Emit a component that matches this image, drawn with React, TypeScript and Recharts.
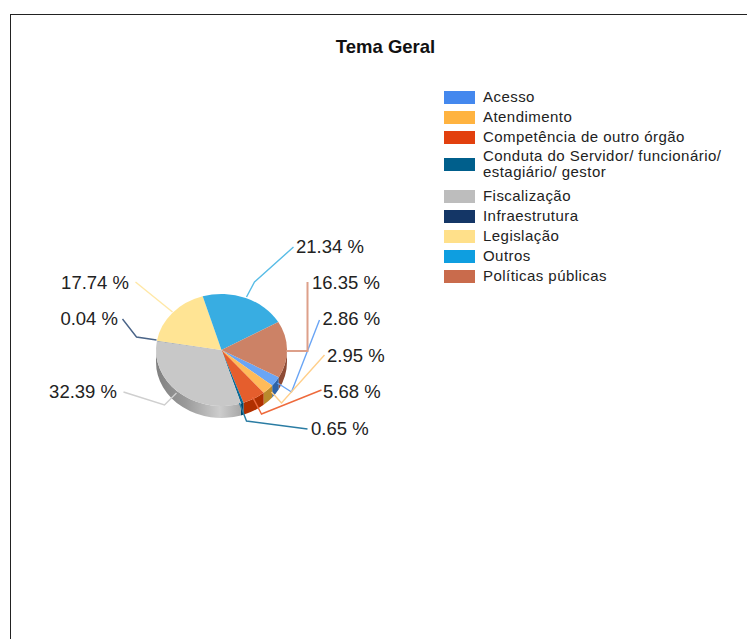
import { PieChart, Pie, Legend } from "recharts";

// Tema Geral: share of each theme, in percent, in legend order
const CATEGORIES = [
  "Acesso",
  "Atendimento",
  "Competência de outro órgão",
  "Conduta do Servidor/ funcionário/ estagiário/ gestor",
  "Fiscalização",
  "Infraestrutura",
  "Legislação",
  "Outros",
  "Políticas públicas",
];
const VALUES = [2.86, 2.95, 5.68, 0.65, 32.39, 0.04, 17.74, 21.34, 16.35];

const LEGEND_COLORS = ["#4488EE", "#FFB340", "#E2400E", "#005F8C", "#BDBDBD", "#143666", "#FFE08A", "#0E9EE0", "#C96B4C"];
const TOP_COLORS = ["#6AA5F5", "#FFBB5A", "#E55E2D", "#0A6A96", "#C8C8C8", "#143666", "#FFE494", "#38ADE2", "#CC8266"];
const SIDE_COLORS = ["#2E63A8", "#B98A2C", "#B03000", "#004A6E", "url(#sideGray)", "#0E2748", "#B89F5A", "#0A70A0", "#8E4B35"];
const LINE_COLORS = ["#6AA5F5", "#FFCF8A", "#EE6A3C", "#2A7CA3", "#CFCFCF", "#4A6488", "#FFE8A6", "#58BCE6", "#DDA08A"];

const CX = 221.5;
const CY = 350;
const RX = 65.5;
const RY = 56;
const DEPTH = 12;
const FONT = '"Liberation Sans", Arial, sans-serif';

// leader line geometry relative to the pie centre, [x, y] per bend, plus label anchor
const LEADERS: { pts: [number, number][]; side: "start" | "end"; x: number; y: number }[] = [
  { pts: [[56, 33], [70, 42], [98, -30]], side: "start", x: 101, y: -31.5 },
  { pts: [[50, 42], [60, 53], [103, 5]], side: "start", x: 105.5, y: 5.5 },
  { pts: [[31, 47], [40, 64], [100, 40]], side: "start", x: 101.5, y: 41.5 },
  { pts: [[18, 53], [25, 71], [86, 79]], side: "start", x: 89.5, y: 78.5 },
  { pts: [[-45, 43], [-57, 55], [-98, 42]], side: "end", x: -104.5, y: 41.5 },
  { pts: [[-65, -10], [-85, -13], [-99, -31]], side: "end", x: -103.5, y: -31.5 },
  { pts: [[-49, -38], [-86, -68]], side: "end", x: -92.5, y: -67.5 },
  { pts: [[25, -53], [33, -68], [72, -103]], side: "start", x: 74.5, y: -103.5 },
  { pts: [[65, 1], [86, 1], [86, -68]], side: "start", x: 90.5, y: -67.5 },
];

const rad = (d: number) => (d * Math.PI) / 180;
const px = (cx: number, t: number) => cx + RX * Math.cos(rad(t));
const py = (cy: number, t: number) => cy + RY * Math.sin(rad(t));

function sidePath(cx: number, cy: number, a: number, b: number) {
  const large = b - a > 180 ? 1 : 0;
  return (
    `M${px(cx, a)} ${py(cy, a)} A${RX} ${RY} 0 ${large} 1 ${px(cx, b)} ${py(cy, b)} ` +
    `L${px(cx, b)} ${py(cy, b) + DEPTH} A${RX} ${RY} 0 ${large} 0 ${px(cx, a)} ${py(cy, a) + DEPTH} Z`
  );
}

// recharts hands over the angles, the slice is squashed to an ellipse here
function EllipseSlice(props: any) {
  const { cx, cy, startAngle, endAngle, index } = props;
  const t0 = -startAngle;
  const t1 = -endAngle;
  const large = t1 - t0 > 180 ? 1 : 0;
  const top = `M${cx} ${cy} L${px(cx, t0)} ${py(cy, t0)} A${RX} ${RY} 0 ${large} 1 ${px(cx, t1)} ${py(cy, t1)} Z`;
  const sides: string[] = [];
  for (const k of [0, 360]) {
    const a = Math.max(t0, k);
    const b = Math.min(t1, k + 180);
    if (b > a) sides.push(sidePath(cx, cy, a, b));
  }
  return (
    <g>
      {sides.map((d, i) => (
        <path key={i} d={d} fill={SIDE_COLORS[index]} />
      ))}
      <path d={top} fill={TOP_COLORS[index]} />
    </g>
  );
}

function LeaderLabel(props: any) {
  const { index, value, cx, cy } = props;
  const l = LEADERS[index];
  const pts = l.pts.map(([x, y]) => `${cx + x},${cy + y}`).join(" ");
  const isThick = index === 8;
  return (
    <g>
      <polyline points={pts} fill="none" stroke={LINE_COLORS[index]} strokeWidth={isThick ? 2 : 1.4} />
      <text x={cx + l.x} y={cy + l.y} dy="0.35em" textAnchor={l.side} fontFamily={FONT} fontSize={18.5} fill="#222">
        {`${Number(value).toFixed(2)} %`}
      </text>
    </g>
  );
}

function LegendList({ payload }: any) {
  return (
    <div style={{ fontFamily: FONT, fontSize: 15, letterSpacing: 0.45, lineHeight: "16px", color: "#222" }}>
      {(payload ?? []).map((p: any, i: number) => (
        <div
          key={p.value}
          style={{
            display: "flex",
            alignItems: "center",
            minHeight: 20,
            marginTop: i === 3 ? 1 : 0,
            marginBottom: i === 3 ? 6 : 0,
          }}
        >
          <span style={{ width: 31, height: 13, background: LEGEND_COLORS[i], marginRight: 8, flexShrink: 0 }} />
          <span>{p.value}</span>
        </div>
      ))}
    </div>
  );
}

const tableData = CATEGORIES.map((name, i) => ({ name, value: VALUES[i], fill: LEGEND_COLORS[i] }));

export default function App() {
  return (
    <div style={{ position: "fixed", left: 0, top: 0, width: 747, height: 639, background: "#fff", overflow: "hidden" }}>
      <div style={{ position: "absolute", left: 10, top: 14, right: 0, bottom: 0, borderLeft: "1px solid #222", borderTop: "1px solid #222" }} />
      <PieChart width={747} height={639} margin={{ top: 0, right: 0, bottom: 0, left: 0 }}>
        <defs>
          <linearGradient id="sideGray" x1="0" y1="0" x2="1" y2="0">
            <stop offset="0" stopColor="#808080" />
            <stop offset="0.35" stopColor="#9A9A9A" />
            <stop offset="0.75" stopColor="#CDCDCD" />
            <stop offset="1" stopColor="#A8A8A8" />
          </linearGradient>
        </defs>
        <text x={385.5} y={47} dy="0.35em" textAnchor="middle" fontFamily={FONT} fontSize={18.5} fontWeight="bold" fill="#111">
          Tema Geral
        </text>
        <Pie
          data={tableData}
          dataKey="value"
          nameKey="name"
          cx={CX}
          cy={CY}
          outerRadius={RX}
          startAngle={-29}
          endAngle={-389}
          stroke="none"
          shape={EllipseSlice}
          label={LeaderLabel}
          labelLine={false}
          isAnimationActive={false}
        />
        <Legend
          layout="vertical"
          align="right"
          verticalAlign="top"
          itemSorter={null}
          content={LegendList}
          wrapperStyle={{ left: 444, top: 87, width: 285, right: "auto" }}
        />
      </PieChart>
    </div>
  );
}
